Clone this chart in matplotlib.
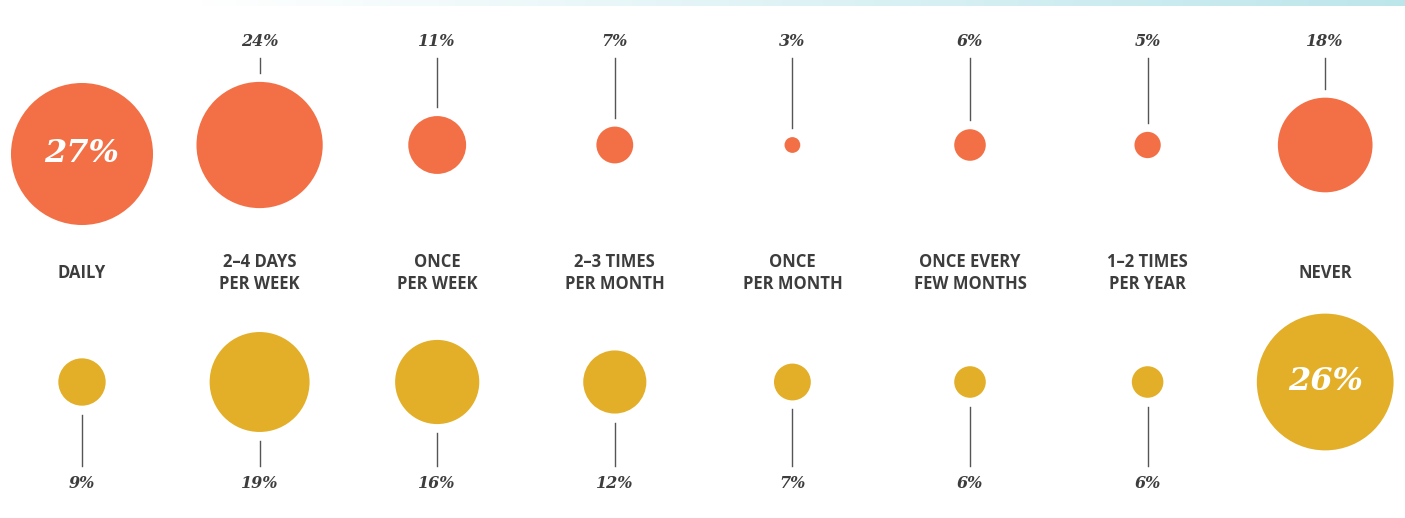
import numpy as np
import matplotlib.pyplot as plt
from matplotlib.patches import Circle

categories = ["DAILY", "2\u20134 DAYS\nPER WEEK", "ONCE\nPER WEEK", "2\u20133 TIMES\nPER MONTH",
              "ONCE\nPER MONTH", "ONCE EVERY\nFEW MONTHS", "1\u20132 TIMES\nPER YEAR", "NEVER"]
top_values = [27, 24, 11, 7, 3, 6, 5, 18]
bottom_values = [9, 19, 16, 12, 7, 6, 6, 26]

orange = "#F37046"
gold = "#E3AF29"
text_gray = "#3d3d3d"
line_gray = "#555555"

W, H = 1405, 518
fig = plt.figure(figsize=(W / 100, H / 100), dpi=100)
ax = fig.add_axes([0, 0, 1, 1])
ax.set_xlim(0, W)
ax.set_ylim(H, 0)
ax.set_aspect("equal")
ax.axis("off")

# gradient strip along the top
grad = np.linspace(0, 1, 512)
grad = np.clip((grad - 0.14) / 0.86, 0, 1)
cmap = plt.matplotlib.colors.LinearSegmentedColormap.from_list("strip", ["#ffffff", "#bde6eb"])
ax.imshow(grad[None, :], cmap=cmap, extent=(0, W, 6, 0), aspect="auto", zorder=0)

px_per_pct = 2.63
x0, dx = 82, 177.6
top_y, bot_y = 145, 382
gap = 9

sans = ["Open Sans", "DejaVu Sans"]
serif = ["DejaVu Serif"]

for i, cat in enumerate(categories):
    x = x0 + dx * i

    # top row
    v = top_values[i]
    r = v * px_per_pct
    if v == max(top_values):
        cy = top_y + 9
        ax.add_patch(Circle((x, cy), r, color=orange, lw=0))
        ax.text(x, cy, f"{v}%", color="white", fontsize=23, style="italic",
                weight="bold", family=serif, ha="center", va="center")
    else:
        ax.add_patch(Circle((x, top_y), r, color=orange, lw=0))
        ax.plot([x, x], [58, top_y - r - gap], color=line_gray, lw=1)
        ax.text(x, 42, f"{v}%", color=text_gray, fontsize=11.5, style="italic",
                weight="bold", family=serif, ha="center", va="center")

    # bottom row
    v = bottom_values[i]
    r = v * px_per_pct
    ax.add_patch(Circle((x, bot_y), r, color=gold, lw=0))
    if v == max(bottom_values):
        ax.text(x, bot_y, f"{v}%", color="white", fontsize=23, style="italic",
                weight="bold", family=serif, ha="center", va="center")
    else:
        ax.plot([x, x], [bot_y + r + gap, 466], color=line_gray, lw=1)
        ax.text(x, 483, f"{v}%", color=text_gray, fontsize=11.5, style="italic",
                weight="bold", family=serif, ha="center", va="center")

    # category label
    ax.text(x, 273, cat, color=text_gray, fontsize=12, weight="bold", family=sans,
            ha="center", va="center", linespacing=1.35)

fig.savefig("out.png", dpi=100)
